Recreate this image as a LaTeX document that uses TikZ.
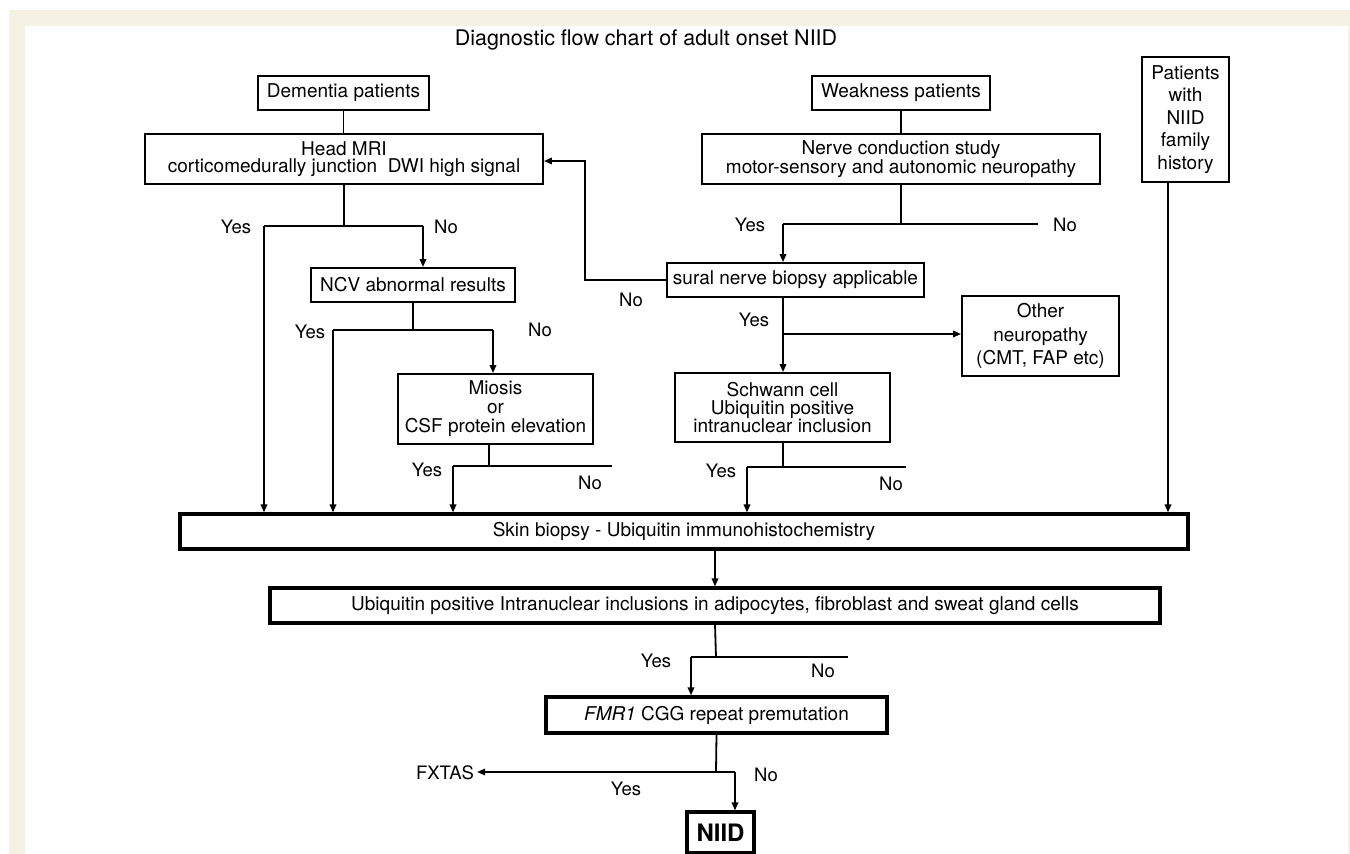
\documentclass[tikz,border=0pt]{standalone}
\usepackage{fontspec}
\setmainfont{TeX Gyre Heros}
\usepackage{xcolor}
\usetikzlibrary{arrows.meta,positioning}
\definecolor{paper}{RGB}{245,241,228}

\begin{document}
\begin{tikzpicture}[x=1pt,y=-1pt,
  box/.style={draw,line width=1.9pt,inner sep=0pt,align=center,font=\fontsize{19}{16.5}\selectfont},
  heavybox/.style={box,line width=3.2pt},
  lbl/.style={font=\fontsize{18.5}{20}\selectfont,inner sep=0pt},
  link/.style={line width=1.8pt},
  arr/.style={link,-{Triangle[length=8pt,width=6.5pt]}}]
  \useasboundingbox (0,0) rectangle (1350,854);
  \fill[paper] (9,10) rectangle (1350,854);
  \fill[white] (25,26) rectangle (1348,854);
  \node[anchor=base,font=\fontsize{21.5}{24}\selectfont,inner sep=0pt] (title) at (646,45) {Diagnostic flow chart of adult onset NIID};

  \node[box,minimum width=171pt,minimum height=34pt] (dem) at (343.5,93) {Dementia patients};
  \node[box,minimum width=398pt,minimum height=50pt] (mri) at (344,159) {Head MRI\\corticomedurally junction\ \ DWI high signal};
  \node[box,minimum width=178pt,minimum height=34pt] (wk) at (901,93) {Weakness patients};
  \node[box,minimum width=398pt,minimum height=50pt] (ncs) at (901,159) {Nerve conduction study\\motor-sensory and autonomic neuropathy};
  \node[box,minimum width=87pt,minimum height=125pt,font=\fontsize{19}{22.5}\selectfont] (fam) at (1185.5,119.5) {Patients\\with\\NIID\\family\\history};
  \node[box,minimum width=204pt,minimum height=34pt] (ncv) at (413,285) {NCV abnormal results};
  \node[box,minimum width=257pt,minimum height=34pt] (sural) at (795.5,280) {sural nerve biopsy applicable};
  \node[box,minimum width=157pt,minimum height=80pt,font=\fontsize{19}{23.5}\selectfont] (other) at (1040.5,336) {Other\\neuropathy\\(CMT, FAP etc)};
  \node[box,minimum width=195pt,minimum height=70pt,font=\fontsize{19}{19}\selectfont] (mio) at (495.5,409) {Miosis\\or\\CSF protein elevation};
  \node[box,minimum width=215pt,minimum height=69pt,font=\fontsize{19}{18}\selectfont] (sch) at (782.5,407.5) {Schwann cell\\Ubiquitin positive\\intranuclear inclusion};
  \node[heavybox,minimum width=1008pt,minimum height=35pt] (skin) at (684,531.5) {Skin biopsy - Ubiquitin immunohistochemistry};
  \node[heavybox,minimum width=890pt,minimum height=35pt] (ubq) at (715,605.5) {Ubiquitin positive Intranuclear inclusions in adipocytes, fibroblast and sweat gland cells};
  \node[heavybox,minimum width=341pt,minimum height=36pt] (fmr) at (716.5,715) {\textit{FMR1} CGG repeat premutation};
  \node[heavybox,minimum width=67pt,minimum height=41pt,font=\fontsize{24}{26}\selectfont\bfseries] (niid) at (720.5,832.5) {NIID};
  \node[lbl,inner sep=3pt] (fxtas) at (445,773) {FXTAS};

  \coordinate (mrij) at (344,226);
  \coordinate (mriY) at (264,226);
  \coordinate (mriN) at (423,226);
  \coordinate (ncsj) at (901,224);
  \coordinate (ncsY) at (783,224);
  \coordinate (ncsN) at (1038,224);
  \coordinate (back) at (585,161);
  \coordinate (ncvY) at (333,330);
  \coordinate (ncvN) at (493,330);
  \coordinate (surj) at (783,334);
  \coordinate (mioj) at (489,466);
  \coordinate (mioY) at (453,466);
  \coordinate (mioN) at (612,466);
  \coordinate (schj) at (783,467);
  \coordinate (schY) at (747,467);
  \coordinate (schN) at (906,467);
  \coordinate (famj) at (1168,300);
  \coordinate (ubqj) at (716,657);
  \coordinate (ubqY) at (691,657);
  \coordinate (ubqN) at (848,657);
  \coordinate (fmrj) at (716,772);
  \coordinate (fmrN) at (735,772);

  \draw[link] (dem.south) -- (dem.south |- mri.north);
  \draw[link] (wk.south) -- (wk.south |- ncs.north);
  \draw[link] (mri.south) -- (mrij);
  \draw[link] (mriY) -- (mriN);
  \draw[arr] (mriY) -- (mriY |- skin.north);
  \draw[arr] (mriN) -- (mriN |- ncv.north);
  \draw[link] (ncs.south) -- (ncsj);
  \draw[link] (ncsY) -- (ncsN);
  \draw[arr] (ncsY) -- (ncsY |- sural.north);
  \draw[arr] (sural.west) -| (back) -- (back -| mri.east);
  \draw[link] (ncv.south) -- (ncv.south |- ncvY);
  \draw[link] (ncvY) -- (ncvN);
  \draw[arr] (ncvY) -- (ncvY |- skin.north);
  \draw[arr] (ncvN) -- (ncvN |- mio.north);
  \draw[arr] (surj |- sural.south) -- (surj |- sch.north);
  \draw[arr] (surj) -- (surj -| other.west);
  \draw[link] (mioj |- mio.south) -- (mioj);
  \draw[link] (mioY) -- (mioN);
  \draw[arr] (mioY) -- (mioY |- skin.north);
  \draw[link] (schj |- sch.south) -- (schj);
  \draw[link] (schY) -- (schN);
  \draw[arr] (schY) -- (schY |- skin.north);
  \draw[arr] (famj |- fam.south) -- (famj |- skin.north);
  \draw[arr] (ubq.north |- skin.south) -- (ubq.north);
  \draw[link] (ubq.south) -- (ubqj);
  \draw[link] (ubqY) -- (ubqN);
  \draw[arr] (ubqY) -- (ubqY |- fmr.north);
  \draw[link] (fmr.south) -- (fmrj);
  \draw[arr] (fmrN) -- (fmrN -| fxtas.east);
  \draw[arr] (fmrN) -- (fmrN |- niid.north);

  \node[lbl] (y1) at (236,227) {Yes};
  \node[lbl] (n1) at (446,227) {No};
  \node[lbl] (y2) at (750,225) {Yes};
  \node[lbl] (n2) at (1065,225) {No};
  \node[lbl] (n3) at (631,300) {No};
  \node[lbl] (y3) at (310,332) {Yes};
  \node[lbl] (n4) at (540,330) {No};
  \node[lbl] (y4) at (754,320) {Yes};
  \node[lbl] (y5) at (427,470) {Yes};
  \node[lbl] (n5) at (590,483) {No};
  \node[lbl] (y6) at (721,471) {Yes};
  \node[lbl] (n6) at (891,484) {No};
  \node[lbl] (y7) at (656,661) {Yes};
  \node[lbl] (n7) at (823,671) {No};
  \node[lbl] (n8) at (766,775) {No};
  \node[lbl] (y8) at (626,789) {Yes};
\end{tikzpicture}
\end{document}
